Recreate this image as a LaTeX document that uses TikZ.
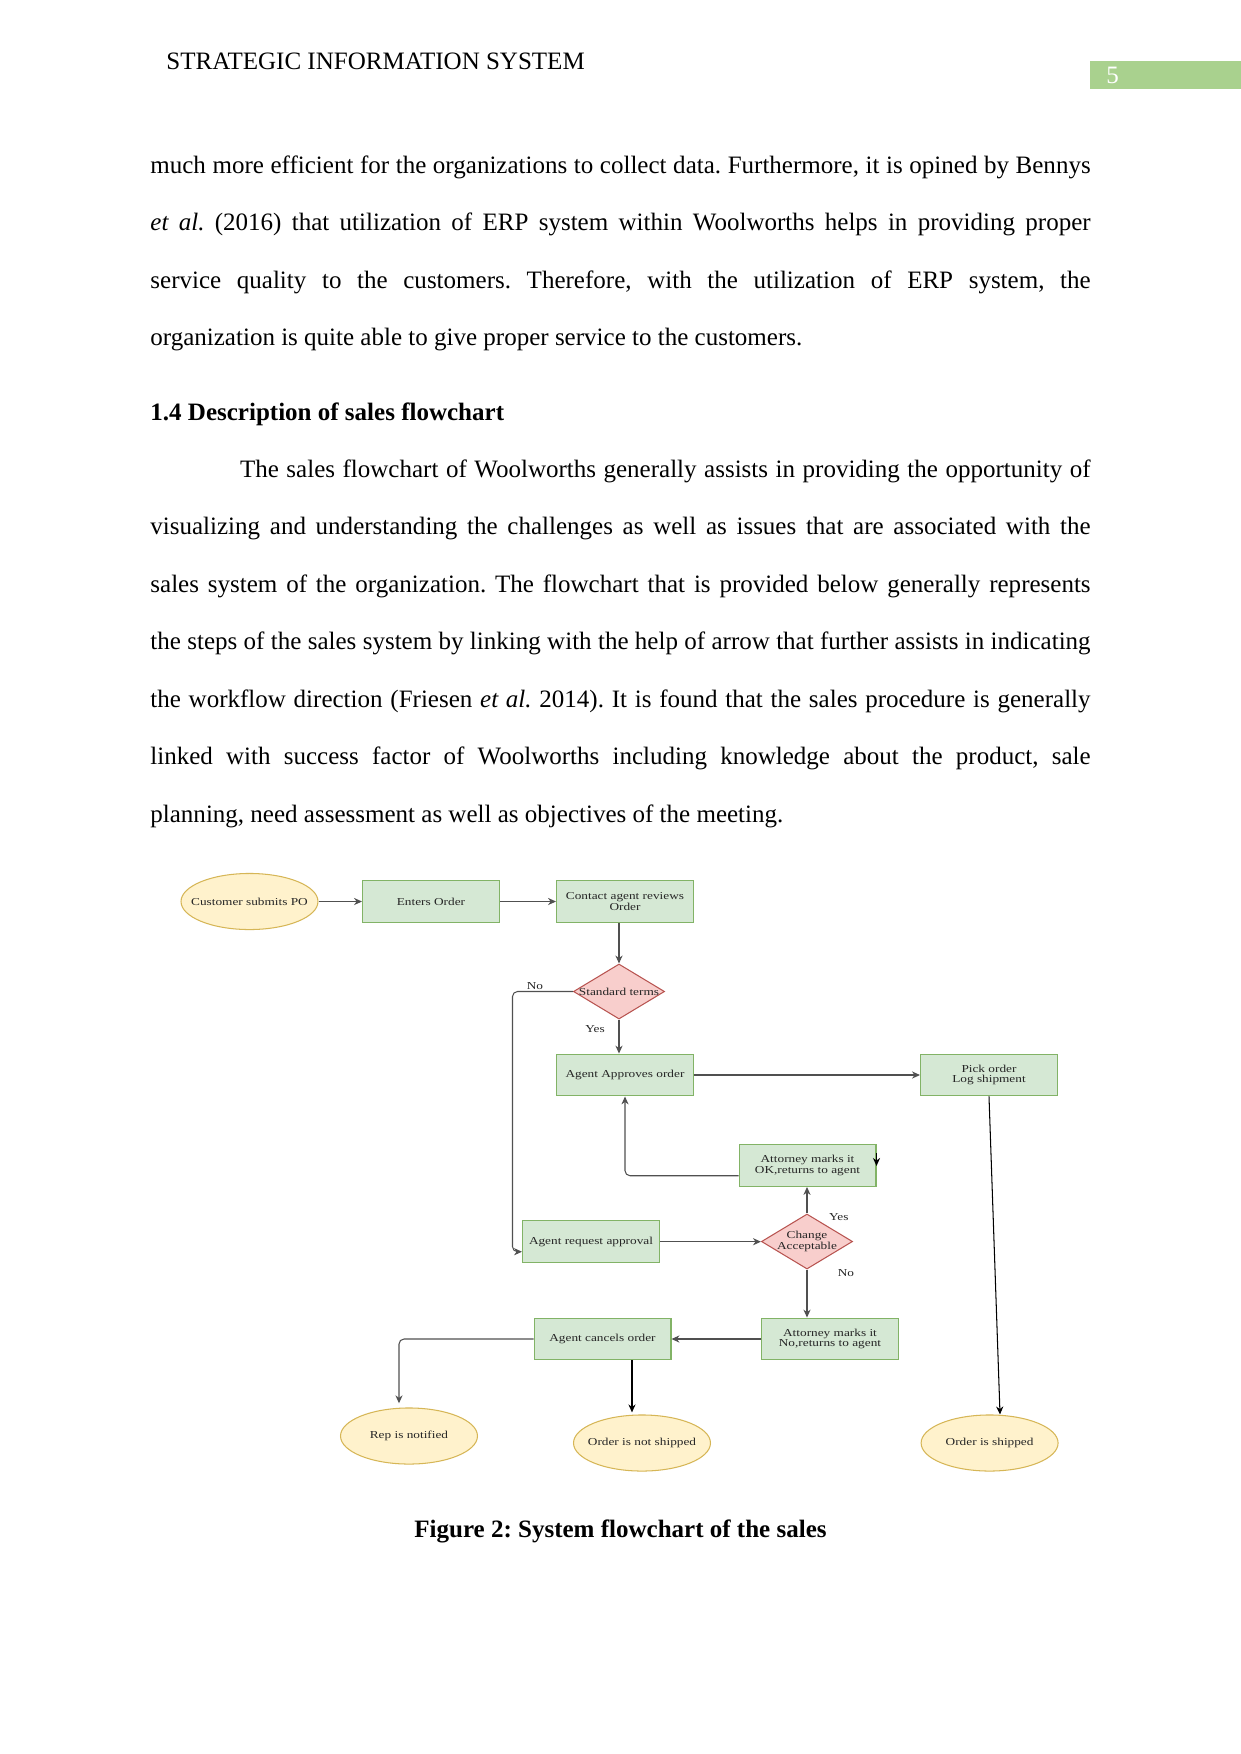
\documentclass[tikz,border=0pt]{standalone}
\usepackage{fontspec}
\setmainfont{Liberation Serif}
\newfontfamily\dfont[FakeStretch=1.25]{Liberation Serif}
\usetikzlibrary{shapes.geometric,arrows.meta}
\definecolor{boxfill}{HTML}{D5E8D4}
\definecolor{boxline}{HTML}{82B366}
\definecolor{ellfill}{HTML}{FFF2CC}
\definecolor{ellline}{HTML}{D6B656}
\definecolor{diafill}{HTML}{F8CECC}
\definecolor{dialine}{HTML}{B85450}
\definecolor{connc}{HTML}{505050}
\definecolor{pagebar}{HTML}{A9D18E}
\begin{document}
\frenchspacing
\begin{tikzpicture}[x=0.479678pt,y=-0.479678pt,
  body/.style={anchor=base west,inner sep=0pt,font=\fontsize{12pt}{14pt}\selectfont\frenchspacing},
  dtext/.style={font=\dfont\fontsize{5.1pt}{5pt}\selectfont,text=black!85,align=center},
  procbox/.style={dtext,draw=boxline,fill=boxfill,line width=0.5pt,minimum width=65.7pt,minimum height=20.1pt,inner sep=1pt},
  termell/.style={dtext,ellipse,draw=ellline,fill=ellfill,line width=0.5pt,minimum width=65.7pt,minimum height=26.9pt,inner xsep=-5pt,inner ysep=0pt},
  decis/.style={diamond,draw=dialine,fill=diafill,line width=0.5pt,minimum width=43.7pt,minimum height=26.4pt,inner sep=0pt},
  lbl/.style={dtext,inner sep=0pt},
  conn/.style={draw=connc,line width=0.5pt,-{Stealth[length=3.8pt,width=3.4pt,inset=1.2pt]},rounded corners=2.4pt},
]
\fill[white] (0,0) rectangle (1241,1754);
\useasboundingbox (0,0) rectangle (1241,1754);

% header
\node[body] (hdr) at (166,69.3) {STRATEGIC INFORMATION SYSTEM};
\fill[pagebar] (1090,60.7) rectangle (1241,89.3);
\node[body,text=white] (pnum) at (1106,83) {5};

% body text
\node[body] (l1) at (150,173.3) {\makebox[451pt][s]{much more efficient for the organizations to collect data. Furthermore, it is opined by Bennys}};
\node[body] (l2) at (150,230.8) {\makebox[451pt][s]{\textit{et al.} (2016) that utilization of ERP system within Woolworths helps in providing proper}};
\node[body] (l3) at (150,288.3) {\makebox[451pt][s]{service quality to the customers. Therefore, with the utilization of ERP system, the}};
\node[body] (l4) at (150,345.5) {organization is quite able to give proper service to the customers.};
\node[body] (hd) at (150,420) {\textbf{1.4 Description of sales flowchart}};
\node[body] (l6) at (150,477.3) {\hspace*{43pt}\makebox[408pt][s]{The sales flowchart of Woolworths generally assists in providing the opportunity of}};
\node[body] (l7) at (150,534.8) {\makebox[451pt][s]{visualizing and understanding the challenges as well as issues that are associated with the}};
\node[body] (l8) at (150,592.3) {\makebox[451pt][s]{sales system of the organization. The flowchart that is provided below generally represents}};
\node[body] (l9) at (150,649.8) {\makebox[451pt][s]{the steps of the sales system by linking with the help of arrow that further assists in indicating}};
\node[body] (l10) at (150,707.3) {\makebox[451pt][s]{the workflow direction (Friesen \textit{et al.} 2014). It is found that the sales procedure is generally}};
\node[body] (l11) at (150,764.8) {\makebox[451pt][s]{linked with success factor of Woolworths including knowledge about the product, sale}};
\node[body] (l12) at (150,822.3) {planning, need assessment as well as objectives of the meeting.};

% flowchart nodes
\node[termell] (cust) at (249.5,901.5) {Customer submits PO};
\node[procbox] (enter) at (431,901.5) {Enters Order};
\node[procbox] (contact) at (625,901.5) {Contact agent reviews\\Order};
\node[decis] (std) at (619,991.5) {};
\node[lbl] (stdt) at (std) {Standard terms};
\node[procbox] (approve) at (625,1075) {Agent Approves order};
\node[procbox] (pick) at (989,1075) {Pick order\\Log shipment};
\node[procbox] (attok) at (807.5,1165.5) {Attorney marks it\\OK,returns to agent};
\node[decis] (chg) at (807,1241.5) {};
\node[lbl] (chgt) at (chg) {Change\\Acceptable};
\node[procbox] (req) at (591,1241.7) {Agent request approval};
\node[procbox] (attno) at (830,1339) {Attorney marks it\\No,returns to agent};
\node[procbox] (cancel) at (602.5,1339) {Agent cancels order};
\node[termell] (rep) at (409,1436) {Rep is notified};
\node[termell] (notship) at (642,1443) {Order is not shipped};
\node[termell] (shipped) at (989.6,1443) {Order is shipped};

% labels
\node[lbl] (lno1) at (535,986) {No};
\node[lbl] (lyes1) at (595,1029) {Yes};
\node[lbl] (lyes2) at (838.8,1217.3) {Yes};
\node[lbl] (lno2) at (846,1273.3) {No};

% connectors
\coordinate (nocorner) at (512.5,991.5);
\draw[conn] (cust) -- (enter);
\draw[conn] (enter) -- (contact);
\draw[conn] (std.north |- contact.south) -- (std.north);
\draw[conn] (std.west) -- (nocorner) |- ([yshift=-4.8pt]req.west);
\draw[conn] (std.south) -- (std.south |- approve.north);
\draw[conn] (approve) -- (pick);
\draw[conn,draw=black] (pick.south) -- ([xshift=5pt]shipped.north);
\draw[conn] ([yshift=-4.9pt]attok.west) -| (approve.south);
\draw[conn,draw=black] ([yshift=5.8pt]attok.east) -- ([yshift=-0.2pt]attok.east);
\draw[conn] (chg.north) -- (chg.north |- attok.south);
\draw[conn] (req.east) -- (req.east -| chg.west);
\draw[conn] (chg.south) -- (chg.south |- attno.north);
\draw[conn] (attno) -- (cancel);
\draw[conn] (cancel.west) -| ([xshift=-4.8pt,yshift=2pt]rep.north);
\draw[conn,draw=black,line width=1pt] ([xshift=-4.8pt]notship.north |- cancel.south) -- ([xshift=-4.8pt,yshift=1pt]notship.north);

% caption
\node[anchor=base,inner sep=0pt,font=\fontsize{12pt}{14pt}\selectfont\bfseries] (cap) at (620.5,1537.3) {Figure 2: System flowchart of the sales};
\end{tikzpicture}
\end{document}
